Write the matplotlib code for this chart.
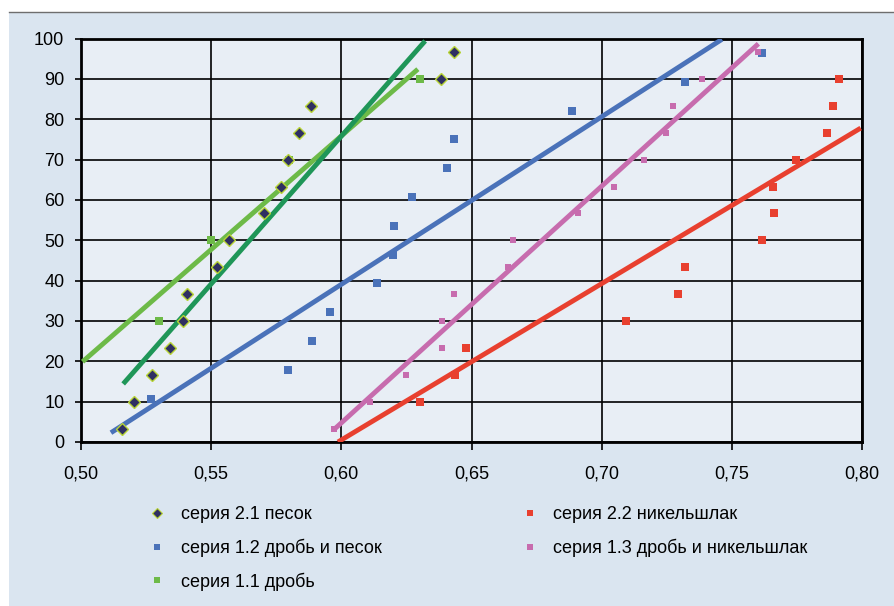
import matplotlib.pyplot as plt
import matplotlib.patches as mpatches
from matplotlib.lines import Line2D
from matplotlib.ticker import FuncFormatter

plt.rcParams['font.family'] = ['Liberation Sans', 'DejaVu Sans']

# серия 2.1 песок
x21 = [0.5157, 0.5202, 0.5272, 0.5340, 0.5391, 0.5408, 0.5521, 0.5569,
       0.5703, 0.5767, 0.5797, 0.5837, 0.5885, 0.6384, 0.6431]
y21 = [3.3, 10, 16.7, 23.3, 30, 36.7, 43.3, 50, 56.7, 63.3, 70, 76.7, 83.3, 90, 96.7]

# серия 1.1 дробь
x11 = [0.5299, 0.5498, 0.5799, 0.6302]
y11 = [30, 50, 70, 90]

# серия 1.2 дробь и песок
x12 = [0.5270, 0.5795, 0.5887, 0.5957, 0.6137, 0.6198, 0.6202, 0.6271,
       0.6407, 0.6432, 0.6885, 0.7322, 0.7617]
y12 = [10.7, 17.9, 25, 32.1, 39.3, 46.4, 53.6, 60.7, 67.9, 75, 82.1, 89.3, 96.4]

# серия 1.3 дробь и никельшлак
x13 = [0.5972, 0.6112, 0.6249, 0.6386, 0.6386, 0.6432, 0.6639, 0.6660,
       0.6910, 0.7046, 0.7161, 0.7249, 0.7275, 0.7387, 0.7602]
y13 = [3.3, 10, 16.7, 23.3, 30, 36.7, 43.3, 50, 56.7, 63.3, 70, 76.7, 83.3, 90, 96.7]

# серия 2.2 никельшлак
x22 = [0.6303, 0.6435, 0.6478, 0.7092, 0.7295, 0.7322, 0.7617, 0.7663,
       0.7659, 0.7748, 0.7867, 0.7890, 0.7913]
y22 = [10, 16.7, 23.3, 30, 36.7, 43.3, 50, 56.7, 63.3, 70, 76.7, 83.3, 90]

# trend lines (end points)
tx11, ty11 = [0.5006, 0.6294], [19.9, 92.4]
tx21, ty21 = [0.5162, 0.6322], [14.4, 99.4]
tx12, ty12 = [0.5115, 0.7462], [2.3, 99.8]
tx13, ty13 = [0.5972, 0.7602], [3.1, 98.7]
tx22, ty22 = [0.5987, 0.7995], [0.0, 77.8]

c_navy = '#2f2f62'
c_lime = '#b8d436'
c_green = '#6dba48'
c_dgreen = '#1f9658'
c_blue = '#4a72b9'
c_pink = '#c76cae'
c_red = '#e8402f'

fig = plt.figure(figsize=(8.94, 6.06), dpi=100, facecolor='white')
bg = mpatches.Rectangle((9 / 894, 0), 1 - 9 / 894, 594 / 606, transform=fig.transFigure,
                        facecolor='#dae5f0', edgecolor='none', zorder=-10)
fig.patches.append(bg)
fig.add_artist(Line2D([9 / 894, 1], [594 / 606, 594 / 606], transform=fig.transFigure,
                      color='#6e6e6e', lw=1, zorder=-5))

ax = fig.add_axes([81 / 894, 1 - 442 / 606, 781 / 894, 403.5 / 606])
ax.set_zorder(2)
ax.set_facecolor('#e8eef5')

# trend lines
ax.plot(tx11, ty11, color=c_green, lw=3.5, solid_capstyle='butt', zorder=3)
ax.plot(tx21, ty21, color=c_dgreen, lw=3.5, solid_capstyle='butt', zorder=3)
ax.plot(tx12, ty12, color=c_blue, lw=3.5, solid_capstyle='butt', zorder=3)
ax.plot(tx13, ty13, color=c_pink, lw=3.5, solid_capstyle='butt', zorder=3)
ax.plot(tx22, ty22, color=c_red, lw=3.5, solid_capstyle='butt', zorder=3)

# points
ax.plot(x12, y12, 's', color=c_blue, ms=5.5, mew=0, zorder=4)
ax.plot(x13, y13, 's', color=c_pink, ms=5, mew=0, zorder=4)
ax.plot(x22, y22, 's', color=c_red, ms=5.5, mew=0, zorder=4)
ax.plot(x11, y11, 's', color=c_green, ms=5.5, mew=0, zorder=4)
ax.plot(x21, y21, 'D', color=c_navy, mec=c_lime, ms=6.5, mew=1, zorder=5)

ax.set_xlim(0.5, 0.8)
ax.set_ylim(0, 100)
ax.set_xticks([0.5, 0.55, 0.6, 0.65, 0.7, 0.75, 0.8])
ax.set_yticks(range(0, 101, 10))
ax.xaxis.set_major_formatter(FuncFormatter(lambda v, p: f'{v:.2f}'.replace('.', ',')))
ax.grid(True, color='black', lw=1.2)
ax.set_axisbelow(True)
for s in ax.spines.values():
    s.set_linewidth(2)
ax.tick_params(axis='both', direction='out', width=1.2, labelsize=13, colors='black')
ax.tick_params(axis='x', length=6, pad=11)
ax.tick_params(axis='y', length=4.5, pad=7.5)

handles = [
    Line2D([], [], ls='', marker='D', color=c_navy, mec=c_lime, ms=5, mew=0.8),
    Line2D([], [], ls='', marker='s', color=c_blue, ms=5, mew=0),
    Line2D([], [], ls='', marker='s', color=c_green, ms=5, mew=0),
    Line2D([], [], ls='', marker='s', color=c_red, ms=5, mew=0),
    Line2D([], [], ls='', marker='s', color=c_pink, ms=5, mew=0),
]
labels = ['серия 2.1 песок', 'серия 1.2 дробь и песок', 'серия 1.1 дробь',
          'серия 2.2 никельшлак', 'серия 1.3 дробь и никельшлак']
fig.legend(handles, labels, ncol=2, loc='upper left', bbox_to_anchor=(132 / 894, 1 - 490 / 606),
           frameon=False, fontsize=13, handlelength=1, handletextpad=0.8,
           labelspacing=0.85, columnspacing=7.7)

fig.savefig('out.png', dpi=100, facecolor='white')
